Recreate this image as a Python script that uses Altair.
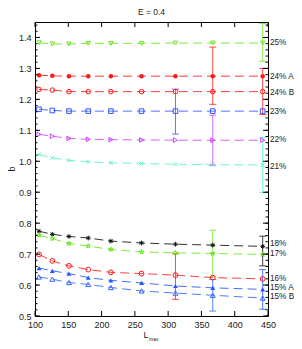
import altair as alt
import pandas as pd
import numpy as np

# ---------------- data ----------------
L = [106, 126, 151, 180, 214, 260, 311, 367, 442]

series_names = ["25%", "24% A", "24% B", "23%", "22%", "21%",
                "18%", "17%", "16%", "15% A", "15% B"]

b25 = [1.383, 1.379, 1.379, 1.381, 1.381, 1.381, 1.382, 1.382, 1.382]
b24A = [1.278, 1.276, 1.275, 1.275, 1.275, 1.275, 1.275, 1.275, 1.275]
b24B = [1.232, 1.230, 1.225, 1.225, 1.225, 1.225, 1.225, 1.225, 1.225]
b23 = [1.168, 1.164, 1.162, 1.162, 1.162, 1.162, 1.162, 1.162, 1.162]
b22 = [1.087, 1.081, 1.074, 1.071, 1.070, 1.069, 1.068, 1.068, 1.068]
b21 = [1.022, 1.011, 1.003, 0.998, 0.995, 0.993, 0.990, 0.989, 0.988]
b18 = [0.774, 0.764, 0.757, 0.752, 0.742, 0.736, 0.732, 0.729, 0.725]
b17 = [0.761, 0.750, 0.734, 0.726, 0.715, 0.707, 0.704, 0.702, 0.699]
b16 = [0.699, 0.678, 0.662, 0.650, 0.641, 0.637, 0.632, 0.624, 0.620]
b15A = [0.655, 0.646, 0.637, 0.624, 0.615, 0.607, 0.597, 0.591, 0.586]
b15B = [0.626, 0.619, 0.608, 0.602, 0.592, 0.581, 0.574, 0.567, 0.558]

values = [b25, b24A, b24B, b23, b22, b21, b18, b17, b16, b15A, b15B]

# error bars: series, L, low, high
err_series = ["25%", "24% A", "24% B", "23%", "22%", "21%",
              "18%", "17%", "16%", "15% A", "15% B"]
err_L = [442, 367, 442, 311, 367, 442, 442, 367, 311, 442, 367]
err_lo = [1.323, 1.184, 1.151, 1.088, 0.987, 0.899, 0.662, 0.626, 0.554, 0.522, 0.516]
err_hi = [1.445, 1.369, 1.300, 1.233, 1.149, 1.077, 0.758, 0.777, 0.701, 0.650, 0.618]

# right-hand labels
label_text = series_names
label_y = [1.381, 1.271, 1.221, 1.160, 1.068, 0.982, 0.732, 0.700, 0.619, 0.589, 0.560]

y_ticks = [0.5, 0.6, 0.7, 0.8, 0.9, 1.0, 1.1, 1.2, 1.3, 1.4]
x_ticks = [100, 150, 200, 250, 300, 350, 400, 450]

colors = ["#66e61a", "#ff1a1a", "#ff1a1a", "#3355ff", "#cc44ff", "#5ff0c8",
          "#111111", "#66e61a", "#ff1a1a", "#2255ff", "#3366ff"]

star = ("M0,-1L0.225,-0.31L0.95,-0.31L0.364,0.118L0.588,0.809L0,0.382"
        "L-0.588,0.809L-0.364,0.118L-0.95,-0.31L-0.225,-0.31Z")
asterisk = "M-1,0L1,0M0,-1L0,1M-0.7,-0.7L0.7,0.7M-0.7,0.7L0.7,-0.7"
xcross = "M-0.8,-0.8L0.8,0.8M-0.8,0.8L0.8,-0.8"
shapes = ["triangle-down", "circle", "circle", "square", "triangle-right", xcross,
          asterisk, star, "circle", "triangle-up", "triangle-up"]
marker_sizes = [20, 24, 20, 20, 20, 22, 40, 45, 20, 24, 20]
filled_series = ["24% A", "15% A"]

# ---------------- tables ----------------
rows = []
for name, vals in zip(series_names, values):
    for x, v in zip(L, vals):
        rows.append({"series": name, "L": x, "b": v})
df = pd.DataFrame(rows)

err_df = pd.DataFrame({"series": err_series, "L": err_L, "lo": err_lo, "hi": err_hi})
lab_df = pd.DataFrame({"series": label_text, "b": label_y})

W, H = 233, 294
FONT = "Liberation Sans"
xscale = alt.Scale(domain=[100, 450], nice=False, zero=False)
yscale = alt.Scale(domain=[0.5, 1.45], nice=False, zero=False)
cscale = alt.Scale(domain=series_names, range=colors)
sscale = alt.Scale(domain=series_names, range=shapes)
zscale = alt.Scale(domain=series_names, range=marker_sizes)

xaxis = alt.Axis(values=x_ticks, title=None, ticks=False,
                 domain=False, grid=False, labelPadding=4, labelFontSize=9,
                 labelOverlap=False, labelFlush=False,
                 labelFont=FONT, labelColor="#222")
yaxis = alt.Axis(values=y_ticks, format=".1f", title=None,
                 ticks=False, domain=False, grid=False, labelPadding=4,
                 labelOverlap=False, labelFlush=False,
                 labelFontSize=9, labelFont=FONT, labelColor="#222")


def XX(f):
    return alt.X(f, scale=xscale, axis=xaxis)


def YY(f):
    return alt.Y(f, scale=yscale, axis=yaxis)


color = alt.Color("series:N", scale=cscale, legend=None)
shape = alt.Shape("series:N", scale=sscale, legend=None)
size = alt.Size("series:N", scale=zscale, legend=None)

lines = alt.Chart(df).mark_line(strokeDash=[9, 5], strokeWidth=1, opacity=0.85).encode(
    x=XX("L:Q"), y=YY("b:Q"), color=color, detail="series:N")

pts_open = alt.Chart(df).transform_filter(
    alt.FieldOneOfPredicate(field="series", oneOf=[s for s in series_names if s not in filled_series])
).mark_point(filled=False, strokeWidth=1, opacity=1).encode(
    x=XX("L:Q"), y=YY("b:Q"), color=color, shape=shape, size=size)

pts_fill = alt.Chart(df).transform_filter(
    alt.FieldOneOfPredicate(field="series", oneOf=filled_series)
).mark_point(filled=True, opacity=1).encode(
    x=XX("L:Q"), y=YY("b:Q"), color=color, shape=shape, size=size)

ebar = alt.Chart(err_df).mark_rule(strokeWidth=1, opacity=0.8).encode(
    x=XX("L:Q"), y=YY("lo:Q"), y2="hi:Q", color=color)
cap_lo = alt.Chart(err_df).mark_tick(orient="horizontal", size=7, thickness=1, opacity=0.8).encode(
    x=XX("L:Q"), y=YY("lo:Q"), color=color)
cap_hi = alt.Chart(err_df).mark_tick(orient="horizontal", size=7, thickness=1, opacity=0.8).encode(
    x=XX("L:Q"), y=YY("hi:Q"), color=color)

labels = alt.Chart(lab_df).mark_text(align="left", baseline="middle", fontSize=8.2,
                                     font=FONT, color="#222").encode(
    x=alt.value(W + 2), y=YY("b:Q"), text="series:N")

# inward axis ticks
ymaj = pd.DataFrame({"v": y_ticks})
ymin = pd.DataFrame({"v": [round(0.5 + 0.02 * i, 2) for i in range(48)]})
xmaj = pd.DataFrame({"v": x_ticks})

tick_layers = [
    alt.Chart(ymaj).mark_rule(color="black", strokeWidth=1).encode(
        y=YY("v:Q"), x=alt.value(0), x2=alt.value(5)),
    alt.Chart(ymaj).mark_rule(color="black", strokeWidth=1).encode(
        y=YY("v:Q"), x=alt.value(W - 5), x2=alt.value(W)),
    alt.Chart(ymin).mark_rule(color="black", strokeWidth=1).encode(
        y=YY("v:Q"), x=alt.value(0), x2=alt.value(2.5)),
    alt.Chart(ymin).mark_rule(color="black", strokeWidth=1).encode(
        y=YY("v:Q"), x=alt.value(W - 2.5), x2=alt.value(W)),
    alt.Chart(xmaj).mark_rule(color="black", strokeWidth=1).encode(
        x=XX("v:Q"), y=alt.value(H - 5), y2=alt.value(H)),
    alt.Chart(xmaj).mark_rule(color="black", strokeWidth=1).encode(
        x=XX("v:Q"), y=alt.value(0), y2=alt.value(5)),
]

txt = dict(font=FONT, color="#222", baseline="middle")
y_title = alt.Chart(pd.DataFrame({"t": ["b"]})).mark_text(
    fontSize=9, angle=270, align="center", **txt).encode(
    x=alt.value(-23), y=alt.value(H / 2), text="t:N")
xt_L = alt.Chart(pd.DataFrame({"t": ["L"]})).mark_text(
    fontSize=9, align="center", **txt).encode(
    x=alt.value(111), y=alt.value(H + 19), text="t:N")
xt_max = alt.Chart(pd.DataFrame({"t": ["max"]})).mark_text(
    fontSize=5, align="left", **txt).encode(
    x=alt.value(114), y=alt.value(H + 23), text="t:N")

chart = alt.layer(
    lines, ebar, cap_lo, cap_hi, pts_open, pts_fill, labels, *tick_layers,
    y_title, xt_L, xt_max
).properties(
    width=W, height=H,
    title=alt.TitleParams("E = 0.4", fontSize=8.5, fontWeight="normal", font=FONT,
                          anchor="middle", offset=5, color="#222"),
    autosize=alt.AutoSizeParams(type="none"),
    padding={"left": 27, "top": 14, "right": 26, "bottom": 25},
).configure_view(stroke="black", strokeWidth=1).configure_axis(labelOverlap=False)

chart.save("out.html", embed_options={"renderer": "svg", "actions": False})
